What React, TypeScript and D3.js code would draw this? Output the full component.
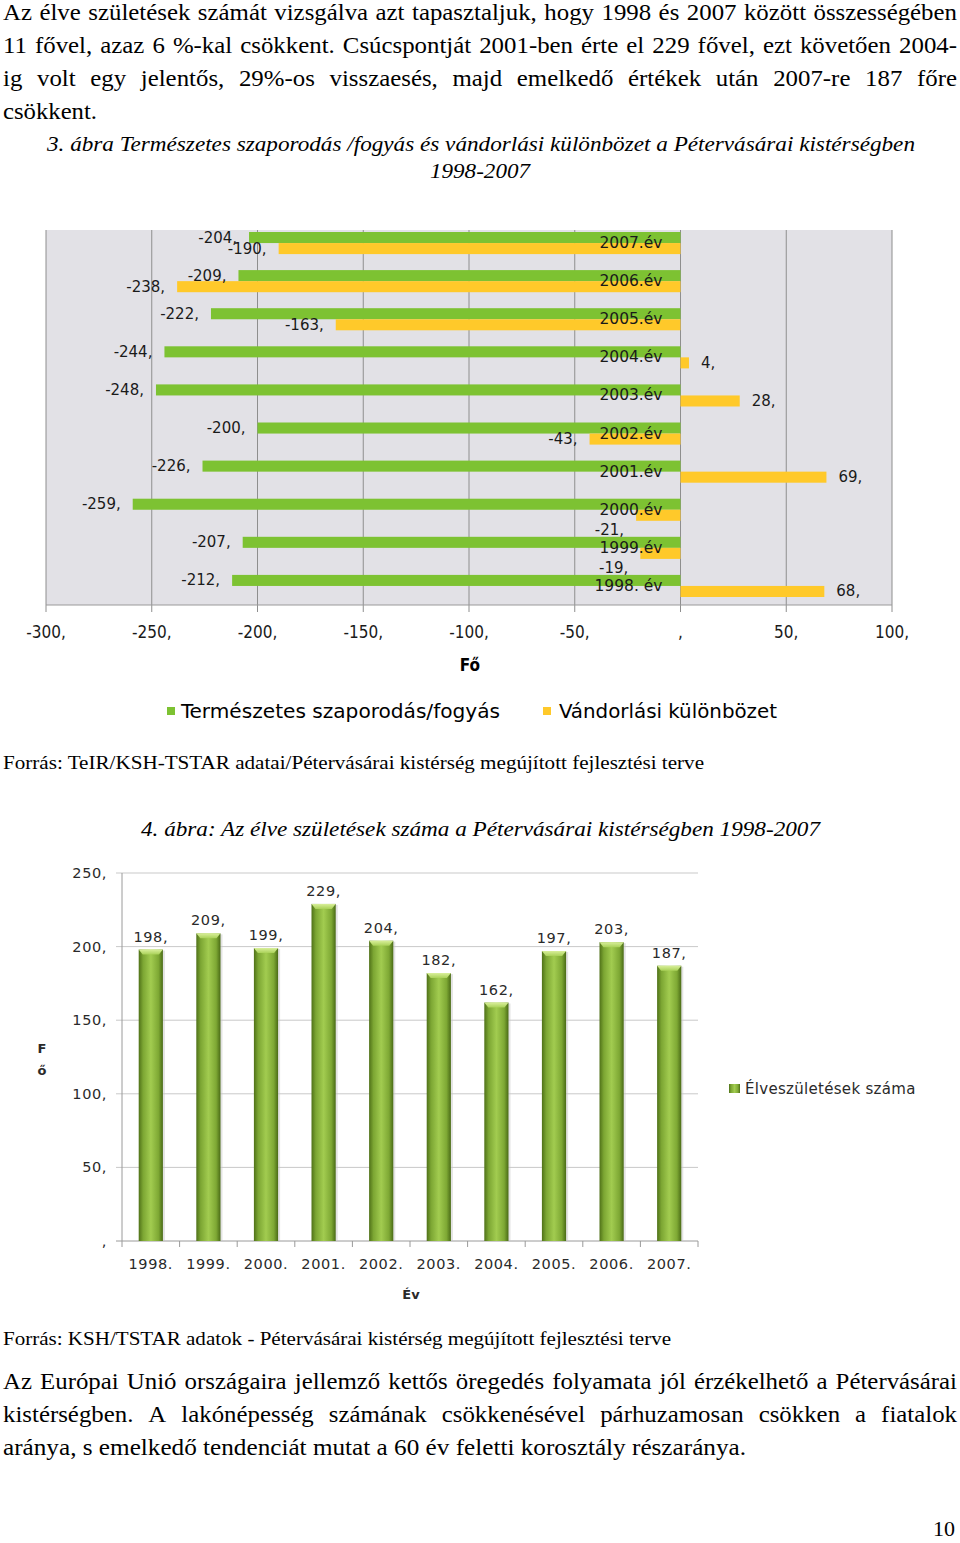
import React from "react";
import * as d3 from "d3";

// ---------- data ----------
const years = ["1998", "1999", "2000", "2001", "2002", "2003", "2004", "2005", "2006", "2007"];
const yearLabels1 = ["1998. év", "1999.év", "2000.év", "2001.év", "2002.év", "2003.év", "2004.év", "2005.év", "2006.év", "2007.év"];
const naturalChange = [-212, -207, -259, -226, -200, -248, -244, -222, -209, -204];
const migrationBalance = [68, -19, -21, 69, -43, 28, 4, -163, -238, -190];
const seriesNames1 = ["Természetes szaporodás/fogyás", "Vándorlási különbözet"];
const xTicks1 = [-300, -250, -200, -150, -100, -50, 0, 50, 100];

const yearLabels2 = ["1998.", "1999.", "2000.", "2001.", "2002.", "2003.", "2004.", "2005.", "2006.", "2007."];
const liveBirths = [198, 209, 199, 229, 204, 182, 162, 197, 203, 187];
const yTicks2 = [0, 50, 100, 150, 200, 250];
const seriesName2 = "Élveszületések száma";

const para1 = [
  "Az élve születések számát vizsgálva azt tapasztaljuk, hogy 1998 és 2007 között összességében",
  "11 fővel, azaz 6 %-kal csökkent. Csúcspontját 2001-ben érte el 229 fővel, ezt követően 2004-",
  "ig volt egy jelentős, 29%-os visszaesés, majd emelkedő értékek után 2007-re 187 főre",
  "csökkent.",
];
const caption1 = ["3. ábra Természetes szaporodás /fogyás és vándorlási különbözet a Pétervásárai kistérségben", "1998-2007"];
const source1 = "Forrás: TeIR/KSH-TSTAR adatai/Pétervásárai kistérség megújított fejlesztési terve";
const caption2 = "4. ábra: Az élve születések száma a Pétervásárai kistérségben 1998-2007";
const source2 = "Forrás: KSH/TSTAR adatok - Pétervásárai kistérség megújított fejlesztési terve";
const para2 = [
  "Az Európai Unió országaira jellemző kettős öregedés folyamata jól érzékelhető a Pétervásárai",
  "kistérségben. A lakónépesség számának csökkenésével párhuzamosan csökken a fiatalok",
  "aránya, s emelkedő tendenciát mutat a 60 év feletti korosztály részaránya.",
];
const pageNumber = "10";

// ---------- styles ----------
const SERIF_NAME = "Liberation Serif";
const SERIF = "'Liberation Serif', 'Times New Roman', serif";
const SANS = "'DejaVu Sans', Verdana, sans-serif";
const NARROW = "'Liberation Sans Narrow', 'DejaVu Sans Condensed', 'Liberation Sans', sans-serif";
const GREEN = "#7dc232";
const YELLOW = "#ffc92a";
const SX = 1.08; // horizontal stretch of the scanned serif text
const BODY = 23;

const fmt = (v: number) => (v === 0 ? "" : String(v)) + ",";

let _ctx: CanvasRenderingContext2D | null = null;
function measure(text: string, size: number, italic = false) {
  if (!_ctx && typeof document !== "undefined") {
    _ctx = document.createElement("canvas").getContext("2d");
  }
  if (!_ctx) return text.length * size * 0.45;
  _ctx.font = `${italic ? "italic " : ""}${size}px '${SERIF_NAME}', serif`;
  return _ctx.measureText(text).width;
}

type LineProps = {
  text: string;
  x: number;
  y: number;
  size: number;
  italic?: boolean;
  width?: number;
  justify?: number;
};

function SerifLine({ text, x, y, size, italic, width, justify }: LineProps) {
  const common = {
    fontFamily: SERIF,
    fontSize: size,
    fontStyle: italic ? "italic" : "normal",
    fill: "#000",
  } as const;
  if (justify) {
    const words = text.split(" ");
    const ws = words.map((w) => measure(w, size, italic) * SX);
    const total = ws.reduce((a, b) => a + b, 0);
    const gap = (justify - total) / (words.length - 1);
    let cx = x;
    return (
      <g>
        {words.map((w, i) => {
          const el = (
            <text key={i} x={cx} y={y} {...common} textLength={ws[i]} lengthAdjust="spacingAndGlyphs">
              {w}
            </text>
          );
          cx += ws[i] + gap;
          return el;
        })}
      </g>
    );
  }
  const len = width ?? measure(text, size, italic) * SX;
  return (
    <text x={x} y={y} {...common} textLength={len} lengthAdjust="spacingAndGlyphs">
      {text}
    </text>
  );
}

export default function App() {
  const x1 = d3.scaleLinear().domain([-300, 100]).range([46, 892]);
  const y1 = d3
    .scaleBand<string>()
    .domain([...years].reverse())
    .range([224, 605])
    .paddingInner(0.42)
    .paddingOuter(0.21);
  const sub1 = d3.scaleBand<string>().domain(["nat", "mig"]).range([0, y1.bandwidth()]);
  const plot1Top = 230;
  const plot1Bottom = 605;

  const x2 = d3.scaleBand<string>().domain(years).range([122, 698]).paddingInner(0.58).paddingOuter(0.29);
  const y2 = d3.scaleLinear().domain([0, 250]).range([1241, 873]);

  const barLabel1 = (v: number, yc: number, key: string, isMig: boolean) => {
    const neg = v < 0;
    const shiftDown = isMig && neg && v > -30 ? 15 : 0;
    return (
      <text
        key={key}
        x={neg ? x1(v) - 12 : x1(v) + 12}
        y={yc + 5 + shiftDown}
        textAnchor={neg ? "end" : "start"}
        fontFamily={SANS}
        fontSize={15}
        fill="#1a1a1a"
      >
        {fmt(v)}
      </text>
    );
  };

  return (
    <svg width={960} height={1543} style={{ position: "absolute", left: 0, top: 0, background: "#fff" }}>
      <defs>
        <linearGradient id="cyl" x1="0" x2="1" y1="0" y2="0">
          <stop offset="0%" stopColor="#4f7118" />
          <stop offset="18%" stopColor="#7ca633" />
          <stop offset="50%" stopColor="#a2cc50" />
          <stop offset="82%" stopColor="#7ea834" />
          <stop offset="100%" stopColor="#4a6b16" />
        </linearGradient>
        <linearGradient id="cap" x1="0" x2="0" y1="0" y2="1">
          <stop offset="0%" stopColor="#d9ef9a" />
          <stop offset="100%" stopColor="#a9d158" />
        </linearGradient>
      </defs>

      {/* ---------- top paragraph ---------- */}
      {para1.map((line, i) => (
        <SerifLine key={"p1" + i} text={line} x={3} y={20 + i * 33} size={BODY} justify={i < 3 ? 954 : undefined} width={i === 3 ? 94 : undefined} />
      ))}
      <SerifLine text={caption1[0]} x={47} y={151} size={21} italic width={868} />
      <SerifLine text={caption1[1]} x={430} y={178} size={21} italic width={100} />

      {/* ---------- chart 1 ---------- */}
      <rect x={x1(-300)} y={plot1Top} width={x1(100) - x1(-300)} height={plot1Bottom - plot1Top} fill="#e2e1e6" />
      {xTicks1.map((t) => (
        <line key={"g" + t} x1={x1(t)} x2={x1(t)} y1={plot1Top} y2={plot1Bottom + 7} stroke="#8e8e8e" strokeWidth={1} />
      ))}
      <line x1={x1(-300)} x2={x1(100)} y1={plot1Bottom} y2={plot1Bottom} stroke="#9a9a9a" strokeWidth={1.2} />

      {years.map((yr, i) => {
        const b = y1(yr)!;
        const yn = b + sub1("nat")!;
        const ym = b + sub1("mig")!;
        const h = sub1.bandwidth();
        const n = naturalChange[i];
        const m = migrationBalance[i];
        return (
          <g key={"bar1" + yr}>
            <rect x={Math.min(x1(n), x1(0))} y={yn} width={Math.abs(x1(n) - x1(0))} height={h} fill={GREEN} />
            <rect x={Math.min(x1(m), x1(0))} y={ym} width={Math.abs(x1(m) - x1(0))} height={h} fill={YELLOW} />
          </g>
        );
      })}
      {years.map((yr, i) => {
        const b = y1(yr)!;
        const h = sub1.bandwidth();
        return (
          <g key={"lab1" + yr}>
            {barLabel1(naturalChange[i], b + sub1("nat")! + h / 2, "ln" + yr, false)}
            {barLabel1(migrationBalance[i], b + sub1("mig")! + h / 2, "lm" + yr, true)}
            <text x={x1(0) - 18} y={b + y1.bandwidth() / 2 + 5} textAnchor="end" fontFamily={SANS} fontSize={15.5} fill="#1a1a1a">
              {yearLabels1[i]}
            </text>
          </g>
        );
      })}
      {xTicks1.map((t) => (
        <text key={"xt" + t} x={x1(t)} y={638} textAnchor="middle" fontFamily={NARROW} fontSize={17} fill="#1a1a1a">
          {fmt(t)}
        </text>
      ))}
      <text x={470} y={671} textAnchor="middle" fontFamily={NARROW} fontWeight="bold" fontSize={17} fill="#000">
        Fő
      </text>
      <rect x={167} y={707} width={8} height={8} fill={GREEN} />
      <text x={181} y={718} fontFamily={NARROW} fontSize={19} fill="#000" textLength={319} lengthAdjust="spacingAndGlyphs">
        {seriesNames1[0]}
      </text>
      <rect x={543} y={707} width={8} height={8} fill={YELLOW} />
      <text x={559} y={718} fontFamily={NARROW} fontSize={19} fill="#000" textLength={218} lengthAdjust="spacingAndGlyphs">
        {seriesNames1[1]}
      </text>

      <SerifLine text={source1} x={3} y={769} size={19.5} width={701} />
      <SerifLine text={caption2} x={141} y={836} size={21} italic width={679} />

      {/* ---------- chart 2 ---------- */}
      {yTicks2.map((t) => (
        <g key={"yg" + t}>
          <line x1={116} x2={698} y1={y2(t)} y2={y2(t)} stroke={t === 0 ? "#9a9a9a" : "#c9c9c9"} strokeWidth={1} />
          <text x={107} y={y2(t) + 5} textAnchor="end" fontFamily={SANS} fontSize={14.5} fill="#2a2a2a" letterSpacing={0.6}>
            {fmt(t)}
          </text>
        </g>
      ))}
      <line x1={122} x2={122} y1={y2(250)} y2={y2(0)} stroke="#9a9a9a" strokeWidth={1} />
      {years.map((yr) => (
        <line key={"xt2" + yr} x1={x2(yr)! - x2.step() * 0.29} x2={x2(yr)! - x2.step() * 0.29} y1={y2(0)} y2={y2(0) + 6} stroke="#9a9a9a" />
      ))}
      <line x1={698} x2={698} y1={y2(0)} y2={y2(0) + 6} stroke="#9a9a9a" />
      {years.map((yr, i) => {
        const xb = x2(yr)!;
        const w = x2.bandwidth();
        const top = y2(liveBirths[i]);
        return (
          <g key={"b2" + yr}>
            <rect x={xb + 2} y={top + 1} width={w} height={y2(0) - top - 1} fill="#c8c8c8" opacity={0.5} />
            <rect x={xb} y={top} width={w} height={y2(0) - top} fill="url(#cyl)" />
            <path d={`M${xb},${top} L${xb + w},${top} L${xb + w - 4},${top + 5} L${xb + 4},${top + 5} Z`} fill="url(#cap)" />
            <text x={xb + w / 2} y={top - 8} textAnchor="middle" fontFamily={SANS} fontSize={14.5} fill="#2a2a2a" letterSpacing={0.6}>
              {fmt(liveBirths[i])}
            </text>
            <text x={xb + w / 2} y={1269} textAnchor="middle" fontFamily={SANS} fontSize={14.5} fill="#2a2a2a" letterSpacing={0.6}>
              {yearLabels2[i]}
            </text>
          </g>
        );
      })}
      <text x={411} y={1299} textAnchor="middle" fontFamily={SANS} fontWeight="bold" fontSize={13} fill="#2a2a2a">
        Év
      </text>
      <text x={42} y={1053} textAnchor="middle" fontFamily={SANS} fontWeight="bold" fontSize={13} fill="#2a2a2a">
        F
      </text>
      <text x={42} y={1075} textAnchor="middle" fontFamily={SANS} fontWeight="bold" fontSize={13} fill="#2a2a2a">
        ő
      </text>
      <rect x={729} y={1084} width={11} height={9} fill="url(#cyl)" />
      <text x={745} y={1094} fontFamily={SANS} fontSize={15} fill="#2a2a2a" letterSpacing={0.3}>
        {seriesName2}
      </text>

      <SerifLine text={source2} x={3} y={1345} size={19.5} width={668} />
      {para2.map((line, i) => (
        <SerifLine key={"p2" + i} text={line} x={3} y={1389 + i * 33} size={BODY} justify={i < 2 ? 954 : undefined} width={i === 2 ? 743 : undefined} />
      ))}
      <SerifLine text={pageNumber} x={933} y={1536} size={22} width={22} />
    </svg>
  );
}
